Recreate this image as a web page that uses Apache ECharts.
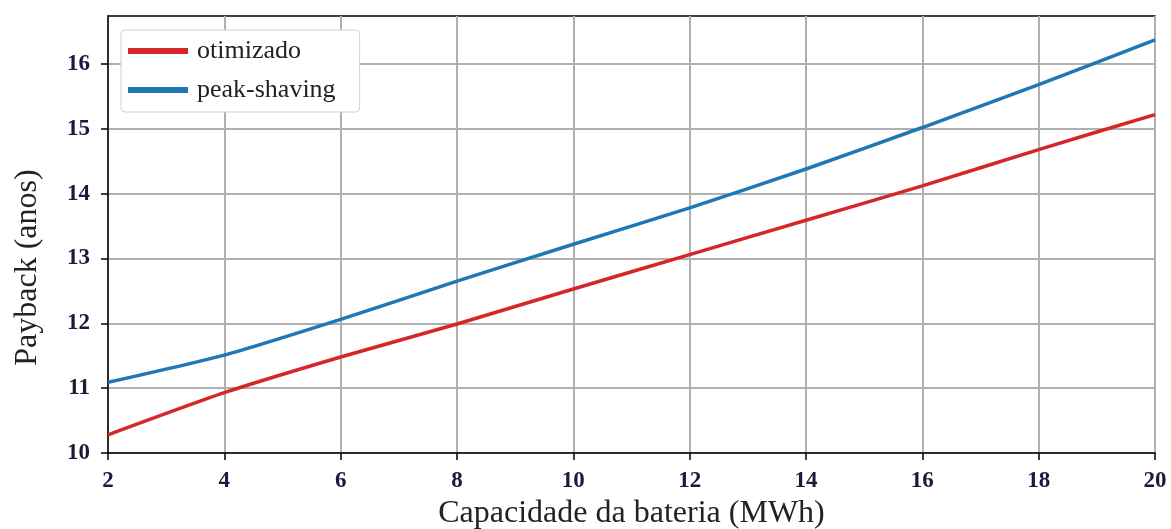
<!DOCTYPE html>
<html>
<head>
<meta charset="utf-8">
<script src="https://cdn.jsdelivr.net/npm/echarts@6/dist/echarts.min.js"></script>
<style>html,body{margin:0;padding:0;background:#fff}#c{width:1171px;height:529px}</style>
</head>
<body>
<div id="c"></div>
<script>
const capacidade = [2, 4, 6, 8, 10, 12, 14, 16, 18, 20];
const otimizado = [10.28, 10.93, 11.48, 11.99, 12.53, 13.06, 13.59, 14.12, 14.68, 15.22];
const peakShaving = [11.09, 11.51, 12.06, 12.65, 13.22, 13.78, 14.38, 15.02, 15.68, 16.37];
const yTicks = [10, 11, 12, 13, 14, 15, 16];
const xTicks = [2, 4, 6, 8, 10, 12, 14, 16, 18, 20];

const chart = echarts.init(document.getElementById('c'), null, {renderer: 'canvas'});
const serif = '"Liberation Serif", "DejaVu Serif", serif';
chart.setOption({
  animation: false,
  grid: {left: 108, right: 16, top: 16, bottom: 76, outerBoundsMode: 'none', containLabel: false,
         show: true, borderColor: '#000', borderWidth: 1.5, backgroundColor: 'transparent'},
  legend: {
    orient: 'vertical', left: 121, top: 30,
    backgroundColor: '#fff', borderColor: '#d0d0d0', borderWidth: 1, borderRadius: 4,
    padding: [8, 24, 9, 7], itemGap: 13,
    icon: 'rect', itemWidth: 60, itemHeight: 6,
    textStyle: {fontFamily: serif, fontSize: 26, color: '#222', padding: [0, 0, 0, 4]},
    data: ['otimizado', 'peak-shaving']
  },
  xAxis: {
    type: 'value', min: 2, max: 20, interval: 2,
    name: 'Capacidade da bateria (MWh)', nameLocation: 'middle', nameGap: 44,
    nameTextStyle: {fontFamily: serif, fontSize: 32, color: '#222'},
    axisLine: {show: true, lineStyle: {color: '#000', width: 1.5}},
    axisTick: {show: true, inside: false, length: 7, lineStyle: {color: '#000', width: 1.5}, customValues: xTicks},
    axisLabel: {fontFamily: serif, fontSize: 23, fontWeight: 'bold', color: '#1a1a3a', margin: 17, customValues: xTicks},
    splitLine: {show: true, lineStyle: {color: '#b0b0b0', width: 2}}
  },
  yAxis: {
    type: 'value', min: 10, max: 16.74, interval: 1,
    name: 'Payback (anos)', nameLocation: 'middle', nameGap: 64, nameRotate: 90,
    nameTextStyle: {fontFamily: serif, fontSize: 32, color: '#222', padding: [0, 66, 0, 0]},
    axisLine: {show: true, lineStyle: {color: '#000', width: 1.5}},
    axisTick: {show: true, inside: false, length: 7, lineStyle: {color: '#000', width: 1.5}, customValues: yTicks},
    axisLabel: {fontFamily: serif, fontSize: 23, fontWeight: 'bold', color: '#1a1a3a', margin: 18, customValues: yTicks},
    splitLine: {show: true, lineStyle: {color: '#b0b0b0', width: 2}}
  },
  series: [
    {name: 'otimizado', type: 'line', data: capacidade.map((x, i) => [x, otimizado[i]]),
     showSymbol: false, smooth: 0.2, lineStyle: {color: '#d62728', width: 3.5}, itemStyle: {color: '#d62728'}},
    {name: 'peak-shaving', type: 'line', data: capacidade.map((x, i) => [x, peakShaving[i]]),
     showSymbol: false, smooth: 0.2, lineStyle: {color: '#1f77b4', width: 3.5}, itemStyle: {color: '#1f77b4'}}
  ]
});
</script>
</body>
</html>
